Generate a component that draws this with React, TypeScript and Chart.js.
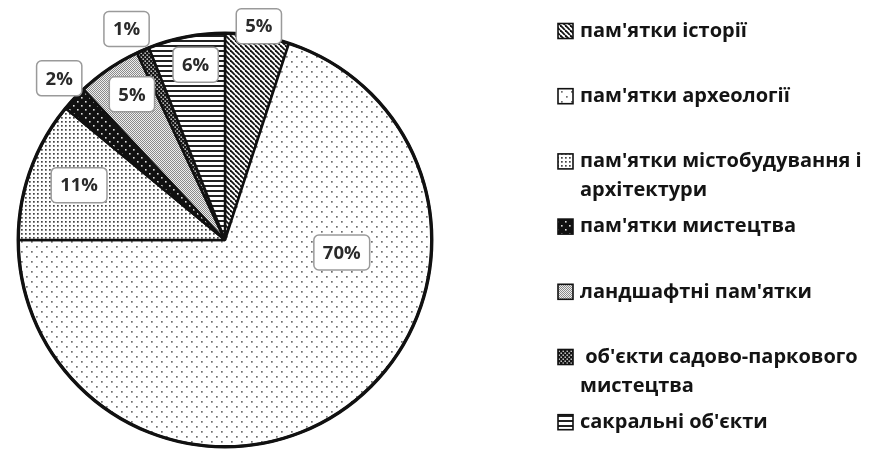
import { useEffect, useRef } from "react";
import { Chart, registerables } from "chart.js";

Chart.register(...registerables);

// ---- data ----
const categories = [
  "пам'ятки історії",
  "пам'ятки археології",
  "пам'ятки містобудування і архітектури",
  "пам'ятки мистецтва",
  "ландшафтні пам'ятки",
  " об'єкти садово-паркового мистецтва",
  "сакральні об'єкти",
];
const shares = [5, 70, 11, 2, 5, 1, 6];
const percentLabels = ["5%", "70%", "11%", "2%", "5%", "1%", "6%"];
const legendLines = [
  ["пам'ятки історії"],
  ["пам'ятки археології"],
  ["пам'ятки містобудування і", "архітектури"],
  ["пам'ятки мистецтва"],
  ["ландшафтні пам'ятки"],
  [" об'єкти садово-паркового", "мистецтва"],
  ["сакральні об'єкти"],
];

// ---- label placement (fraction along slice, fraction of radius) ----
const labelAlong = [0.5, 0.31, 0.52, 0.65, 0.59, 0.05, 0.56];
const labelRadius = [1.047, 0.568, 0.754, 1.12, 0.836, 1.126, 0.86];

type Painter = (g: CanvasRenderingContext2D, w: number, h: number) => void;

function makePattern(w: number, h: number, paint: Painter): CanvasPattern {
  const c = document.createElement("canvas");
  c.width = w;
  c.height = h;
  const g = c.getContext("2d")!;
  paint(g, w, h);
  return g.createPattern(c, "repeat")!;
}

function buildPatterns(): CanvasPattern[] {
  const hatch = makePattern(5, 5, (g, w, h) => {
    g.fillStyle = "#fff";
    g.fillRect(0, 0, w, h);
    g.strokeStyle = "#111";
    g.lineWidth = 1.8;
    for (const o of [-5, 0, 5]) {
      g.beginPath();
      g.moveTo(o, 0);
      g.lineTo(o + 5, 5);
      g.stroke();
    }
  });
  const sparse = makePattern(10, 10, (g, w, h) => {
    g.fillStyle = "#fff";
    g.fillRect(0, 0, w, h);
    g.fillStyle = "#707070";
    g.fillRect(1, 1, 1.7, 1.7);
    g.fillRect(6, 6, 1.7, 1.7);
  });
  const dense = makePattern(4, 4, (g, w, h) => {
    g.fillStyle = "#fff";
    g.fillRect(0, 0, w, h);
    g.fillStyle = "#444";
    g.fillRect(1, 1, 1.7, 1.7);
  });
  const darkDots = makePattern(8, 8, (g, w, h) => {
    g.fillStyle = "#111";
    g.fillRect(0, 0, w, h);
    g.fillStyle = "#ddd";
    g.fillRect(1, 1, 1.6, 1.6);
    g.fillRect(5, 5, 1.6, 1.6);
  });
  const greyFine = makePattern(2, 2, (g) => {
    g.fillStyle = "#eee";
    g.fillRect(0, 0, 2, 2);
    g.fillStyle = "#8a8a8a";
    g.fillRect(0, 0, 1, 1);
    g.fillRect(1, 1, 1, 1);
  });
  const checker = makePattern(4, 4, (g, w, h) => {
    g.fillStyle = "#151515";
    g.fillRect(0, 0, w, h);
    g.fillStyle = "#e5e5e5";
    g.fillRect(0.5, 0.5, 1.4, 1.4);
    g.fillRect(2.5, 2.5, 1.4, 1.4);
  });
  const hlines = makePattern(5, 5, (g, w, h) => {
    g.fillStyle = "#fff";
    g.fillRect(0, 0, w, h);
    g.fillStyle = "#222";
    g.fillRect(0, 0, w, 2);
  });
  return [hatch, sparse, dense, darkDots, greyFine, checker, hlines];
}

const overlayPlugin = {
  id: "overlay",
  afterDatasetsDraw(chart: any) {
    const ctx: CanvasRenderingContext2D = chart.ctx;
    const meta = chart.getDatasetMeta(0);
    const arcs = meta.data;
    if (!arcs.length) return;
    const p0 = arcs[0].getProps(["x", "y", "outerRadius"], true);

    // heavier outer ring
    ctx.save();
    ctx.beginPath();
    ctx.arc(p0.x, p0.y, p0.outerRadius, 0, Math.PI * 2);
    ctx.lineWidth = 3.4;
    ctx.strokeStyle = "#111";
    ctx.stroke();
    ctx.restore();

    // data labels
    ctx.save();
    ctx.font = "bold 18.5px 'Open Sans'";
    ctx.textAlign = "center";
    ctx.textBaseline = "middle";
    arcs.forEach((arc: any, i: number) => {
      const p = arc.getProps(["x", "y", "startAngle", "endAngle", "outerRadius"], true);
      const ang = p.startAngle + (p.endAngle - p.startAngle) * labelAlong[i];
      const r = p.outerRadius * labelRadius[i];
      const cx = p.x + Math.cos(ang) * r;
      const cy = p.y + Math.sin(ang) * r;
      const text = percentLabels[i];
      const tw = ctx.measureText(text).width;
      const bw = tw + 18;
      const bh = 35;
      ctx.beginPath();
      ctx.roundRect(cx - bw / 2, cy - bh / 2, bw, bh, 5);
      ctx.fillStyle = "#fff";
      ctx.fill();
      ctx.lineWidth = 1.5;
      ctx.strokeStyle = "#9a9a9a";
      ctx.stroke();
      ctx.fillStyle = "#2a2a2a";
      ctx.fillText(text, cx, cy + 1);
    });
    ctx.restore();
  },
  afterDraw(chart: any) {
    const ctx: CanvasRenderingContext2D = chart.ctx;
    const fills = chart.data.datasets[0].backgroundColor as CanvasPattern[];
    const top = 31;
    const gap = 65.2;
    const boxX = 558;
    const box = 15;
    const textX = 580;
    const lineH = 29;
    ctx.save();
    ctx.font = "bold 20px 'Open Sans'";
    ctx.textAlign = "left";
    ctx.textBaseline = "middle";
    legendLines.forEach((lines, i) => {
      const cy = top + i * gap;
      ctx.fillStyle = fills[i];
      ctx.fillRect(boxX, cy - box / 2, box, box);
      ctx.lineWidth = 1.6;
      ctx.strokeStyle = "#111";
      ctx.strokeRect(boxX, cy - box / 2, box, box);
      ctx.fillStyle = "#141414";
      lines.forEach((ln, k) => {
        ctx.fillText(ln, textX, cy + k * lineH);
      });
    });
    ctx.restore();
  },
};

export default function App() {
  const ref = useRef<HTMLCanvasElement | null>(null);
  useEffect(() => {
    if (!ref.current) return;
    const patterns = buildPatterns();
    const chart = new Chart(ref.current, {
      type: "pie",
      data: {
        labels: categories,
        datasets: [
          {
            data: shares,
            backgroundColor: patterns as any,
            borderColor: "#111",
            borderWidth: 2.5,
            hoverOffset: 0,
          },
        ],
      },
      options: {
        animation: false,
        responsive: false,
        devicePixelRatio: 1,
        layout: { padding: { left: 17, right: 436, top: 32, bottom: 2 } },
        plugins: {
          legend: { display: false },
          tooltip: { enabled: false },
        },
        events: [],
      },
      plugins: [overlayPlugin],
    });
    return () => chart.destroy();
  }, []);
  return (
    <div style={{ position: "absolute", left: 0, top: 0, width: 869, height: 450, background: "#fff" }}>
      <canvas ref={ref} width={869} height={450} />
    </div>
  );
}
